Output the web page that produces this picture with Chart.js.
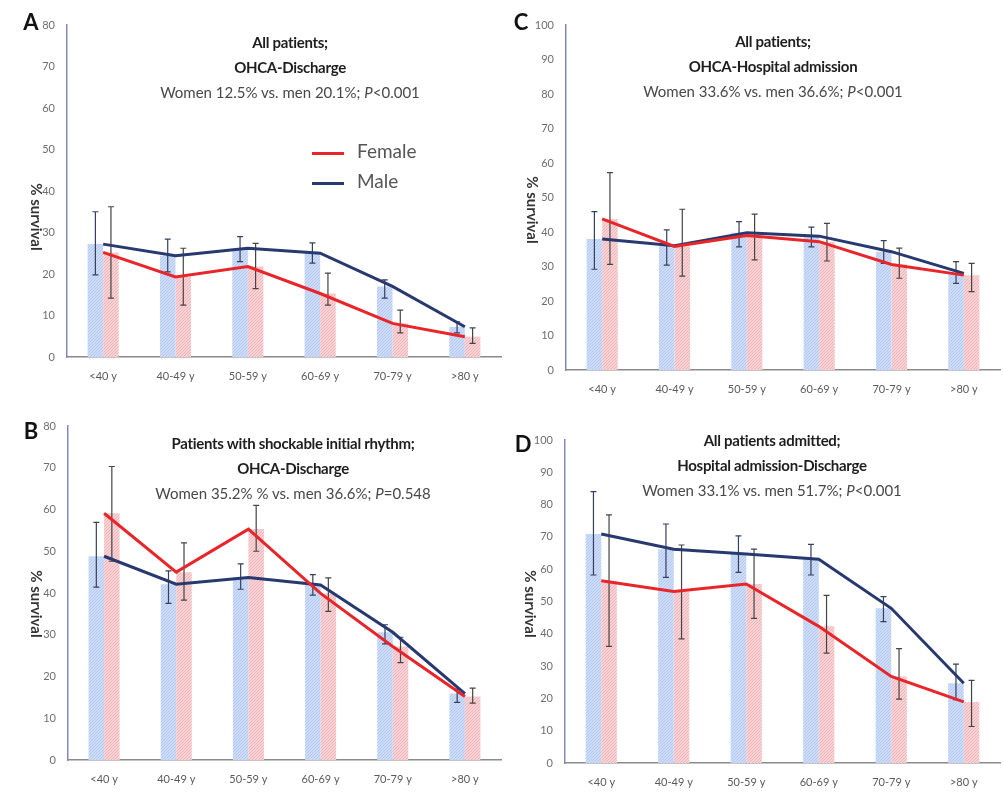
<!DOCTYPE html>
<html>
<head>
<meta charset="utf-8">
<script src="https://cdn.jsdelivr.net/npm/chart.js@4.4.1/dist/chart.umd.min.js"></script>
<style>
body{margin:0;background:#fff;width:1003px;height:793px;position:relative;overflow:hidden;font-family:Lato,'Open Sans',sans-serif;}
canvas{position:absolute;}
.letter{position:absolute;font-weight:bold;font-size:22px;color:#111;transform:translate(-50%,-50%);}
.title{position:absolute;width:400px;text-align:center;font-size:15px;line-height:25px;color:#484848;}
.title b{color:#1e1e1e;letter-spacing:-0.3px;}
.ylab{position:absolute;font-weight:bold;font-size:15px;color:#333;white-space:nowrap;transform:translate(-50%,-50%) rotate(90deg);}
.legend{position:absolute;left:312px;top:136px;font-size:19px;color:#555;line-height:30px;}
.legend span{display:inline-block;width:32px;height:3px;vertical-align:middle;margin-right:13px;}
</style>
</head>
<body>
<canvas id="chart-a" width="505" height="395" style="left:0;top:0"></canvas>
<canvas id="chart-c" width="503" height="400" style="left:500px;top:0"></canvas>
<canvas id="chart-b" width="505" height="393" style="left:0;top:400px"></canvas>
<canvas id="chart-d" width="503" height="393" style="left:500px;top:400px"></canvas>

<div class="letter" style="left:31px;top:21px">A</div>
<div class="letter" style="left:521px;top:21px">C</div>
<div class="letter" style="left:31px;top:430px">B</div>
<div class="letter" style="left:523px;top:443px">D</div>

<div class="title" style="left:90px;top:30px"><b>All patients;</b><br><b>OHCA-Discharge</b><br>Women 12.5% vs. men 20.1%; <i>P</i>&lt;0.001</div>
<div class="title" style="left:573px;top:29px"><b>All patients;</b><br><b>OHCA-Hospital admission</b><br>Women 33.6% vs. men 36.6%; <i>P</i>&lt;0.001</div>
<div class="title" style="left:93px;top:431px"><b>Patients with shockable initial rhythm;</b><br><b>OHCA-Discharge</b><br>Women 35.2% % vs. men 36.6%; <i>P</i>=0.548</div>
<div class="title" style="left:572px;top:428px"><b>All patients admitted;</b><br><b>Hospital admission-Discharge</b><br>Women 33.1% vs. men 51.7%; <i>P</i>&lt;0.001</div>

<div class="ylab" style="left:37px;top:217px">% survival</div>
<div class="ylab" style="left:533px;top:210px">% survival</div>
<div class="ylab" style="left:37px;top:604px">% survival</div>
<div class="ylab" style="left:531px;top:604px">% survival</div>

<div class="legend"><div><span style="background:#e8262a"></span>Female</div><div><span style="background:#27396f"></span>Male</div></div>

<script>
const age_groups = ['<40 y', '40-49 y', '50-59 y', '60-69 y', '70-79 y', '>80 y'];

// A - all patients, OHCA to discharge
const a_male = [27.2, 24.4, 26.2, 25.0, 17.0, 7.3];
const a_female = [25.2, 19.3, 21.8, 15.3, 8.1, 4.9];
const a_male_lo = [19.8, 20.5, 23.0, 22.6, 14.2, 5.8];
const a_male_hi = [35.0, 28.4, 29.0, 27.5, 18.6, 8.5];
const a_female_lo = [14.2, 12.5, 16.5, 12.5, 5.8, 3.3];
const a_female_hi = [36.2, 26.2, 27.4, 20.2, 11.3, 7.0];

// C - all patients, OHCA to hospital admission
const c_male = [38.0, 36.0, 39.8, 38.8, 34.3, 28.0];
const c_female = [43.8, 35.8, 39.0, 37.2, 30.6, 27.5];
const c_male_lo = [29.2, 30.4, 35.7, 35.7, 30.9, 25.1];
const c_male_hi = [45.9, 40.6, 43.0, 41.4, 37.5, 31.4];
const c_female_lo = [30.6, 27.2, 31.9, 31.6, 26.6, 22.7];
const c_female_hi = [57.2, 46.6, 45.2, 42.5, 35.3, 30.9];

// B - shockable initial rhythm, OHCA to discharge
const b_male = [48.8, 42.1, 43.7, 41.9, 30.6, 15.9];
const b_female = [59.1, 45.0, 55.3, 39.9, 27.2, 15.2];
const b_male_lo = [41.4, 37.5, 40.9, 39.5, 27.8, 13.8];
const b_male_hi = [56.9, 45.3, 47.0, 44.4, 32.4, 17.0];
const b_female_lo = [47.6, 38.3, 50.0, 35.6, 23.3, 13.6];
const b_female_hi = [70.3, 52.0, 61.0, 43.6, 29.4, 17.2];

// D - admitted patients, hospital admission to discharge
const d_male = [70.9, 66.2, 64.7, 63.1, 47.9, 24.7];
const d_female = [56.4, 53.1, 55.4, 42.3, 26.8, 18.9];
const d_male_lo = [58.2, 57.5, 59.0, 58.2, 43.8, 19.6];
const d_male_hi = [84.0, 74.0, 70.3, 67.7, 51.5, 30.6];
const d_female_lo = [36.1, 38.4, 44.8, 34.0, 19.8, 11.3];
const d_female_hi = [76.8, 67.5, 66.2, 51.9, 35.4, 25.6];

// fine crosshatch like the excel pattern fill
const make_hatch = (base, stroke) => {
    const c = document.createElement('canvas');
    c.width = 3; c.height = 3;
    const ctx = c.getContext('2d');
    ctx.fillStyle = base;
    ctx.fillRect(0, 0, 3, 3);
    ctx.fillStyle = stroke;
    ctx.fillRect(0, 2, 1, 1);
    ctx.fillRect(1, 1, 1, 1);
    ctx.fillRect(2, 0, 1, 1);
    return ctx.createPattern(c, 'repeat');
}

const error_bars = {
    id: 'error_bars',
    afterDatasetDraw(chart, args) {
        const ds = chart.data.datasets[args.index];
        if (!ds.err_lo) return;
        const y = chart.scales.y;
        const ctx = chart.ctx;
        ctx.save();
        ctx.strokeStyle = ds.err_color;
        ctx.lineWidth = 1.2;
        args.meta.data.forEach((bar, i) => {
            const top = y.getPixelForValue(ds.err_hi[i]);
            const bot = y.getPixelForValue(ds.err_lo[i]);
            ctx.beginPath();
            ctx.moveTo(bar.x, top); ctx.lineTo(bar.x, bot);
            ctx.moveTo(bar.x - 3, top); ctx.lineTo(bar.x + 3, top);
            ctx.moveTo(bar.x - 3, bot); ctx.lineTo(bar.x + 3, bot);
            ctx.stroke();
        });
        ctx.restore();
    }
};

const build_panel = (canvas, male, female, male_lo, male_hi, female_lo, female_hi, y_max, area) => {
    const blue_hatch = make_hatch('#cddcf8', '#b2c8f1');
    const red_hatch = make_hatch('#f9d3d5', '#f1b3b7');
    new Chart(canvas, {
        plugins: [error_bars],
        data: {
            labels: age_groups,
            datasets: [
                { type: 'line', data: female, borderColor: '#e8262a', borderWidth: 3, pointRadius: 0, order: 0 },
                { type: 'line', data: male, borderColor: '#27396f', borderWidth: 3, pointRadius: 0, order: 0 },
                { type: 'bar', data: male, backgroundColor: blue_hatch, order: 1,
                  barPercentage: 1, categoryPercentage: 0.43,
                  err_lo: male_lo, err_hi: male_hi, err_color: '#34405e' },
                { type: 'bar', data: female, backgroundColor: red_hatch, order: 1,
                  barPercentage: 1, categoryPercentage: 0.43,
                  err_lo: female_lo, err_hi: female_hi, err_color: '#444' }
            ]
        },
        options: {
            responsive: false,
            animation: false,
            devicePixelRatio: 1,
            events: [],
            layout: {
                autoPadding: false,
                padding: { left: 0, top: area.top, right: canvas.width - area.right, bottom: 0 }
            },
            plugins: { legend: { display: false }, tooltip: { enabled: false } },
            scales: {
                x: {
                    grid: { display: false, drawTicks: false },
                    border: { display: true, color: '#8a8a8a', width: 1.5 },
                    ticks: { color: '#5a5a5a', font: { family: 'Lato', size: 11 }, padding: 13, maxRotation: 0, autoSkip: false },
                    afterFit: (scale) => { scale.height = canvas.height - area.bottom; }
                },
                y: {
                    min: 0, max: y_max,
                    grid: { display: false, drawTicks: false },
                    border: { display: true, color: '#7d8cb4', width: 1.5 },
                    ticks: { stepSize: 10, color: '#6e6e6e', font: { family: 'Lato', size: 11 }, padding: 12 },
                    afterFit: (scale) => { scale.width = area.left; }
                }
            }
        }
    });
}

document.addEventListener("DOMContentLoaded", function(event) {
    build_panel(document.getElementById("chart-a"), a_male, a_female, a_male_lo, a_male_hi, a_female_lo, a_female_hi, 80, { left: 67, right: 501, top: 25, bottom: 357 });
    build_panel(document.getElementById("chart-c"), c_male, c_female, c_male_lo, c_male_hi, c_female_lo, c_female_hi, 100, { left: 66, right: 500, top: 25, bottom: 370 });
    build_panel(document.getElementById("chart-b"), b_male, b_female, b_male_lo, b_male_hi, b_female_lo, b_female_hi, 80, { left: 68, right: 501, top: 26, bottom: 360 });
    build_panel(document.getElementById("chart-d"), d_male, d_female, d_male_lo, d_male_hi, d_female_lo, d_female_hi, 100, { left: 65, right: 500, top: 40, bottom: 363 });
});
</script>
</body>
</html>
